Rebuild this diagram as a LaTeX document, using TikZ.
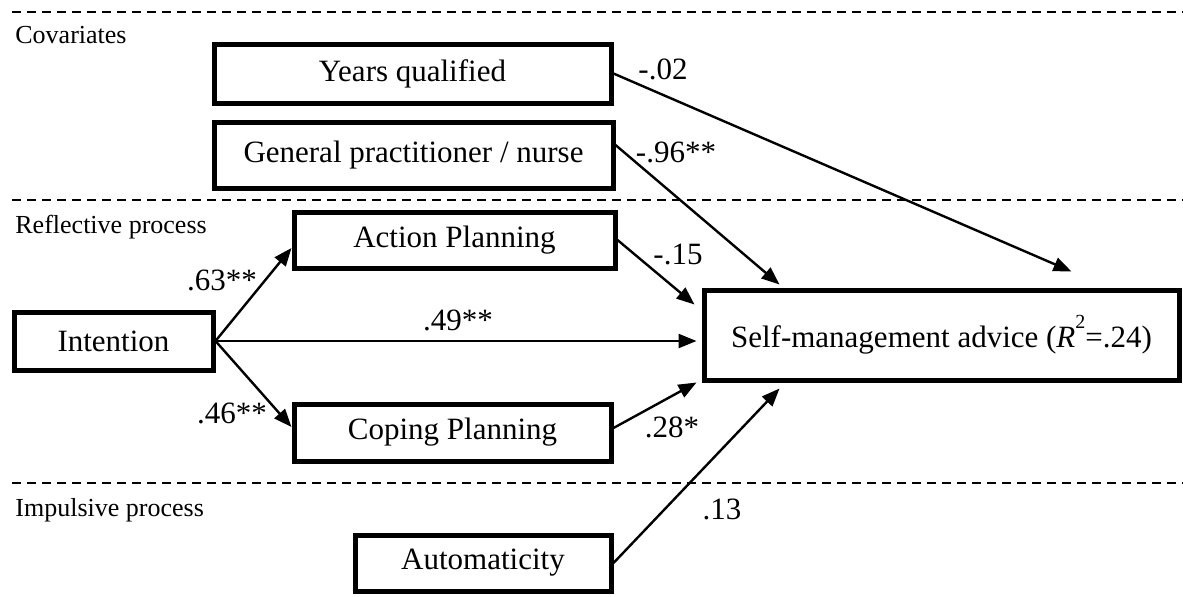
\documentclass[tikz,border=0pt]{standalone}
\usepackage{fontspec}
\setmainfont{Liberation Serif}
\usepackage{tikz}
\usetikzlibrary{arrows.meta}

\begin{document}
\begin{tikzpicture}[x=0.5pt,y=-0.5pt,
box/.style={draw,line width=2.5pt,inner sep=0pt,font=\fontsize{15.5}{18}\selectfont},
lbl/.style={inner sep=0pt,font=\fontsize{15.5}{18}\selectfont},
sec/.style={anchor=base west,inner sep=0pt,font=\fontsize{13}{15}\selectfont},
arr/.style={-{Triangle[length=9pt,width=7pt]},line width=1.2pt},
sep/.style={dash pattern=on 4.5pt off 3pt,line width=0.75pt}]
\useasboundingbox (0,0) rectangle (1183,596);
\draw[sep](12,12)--(1183,12) (12,200)--(1183,200) (12,483)--(1183,483);
\node[sec](cov) at (15,43){Covariates};
\node[sec](refl) at (15,233){Reflective process};
\node[sec](imp) at (15,516){Impulsive process};
\node[box,minimum width=198.5pt,minimum height=29.5pt](yq) at (412.5,73.5){Years qualified};
\node[box,minimum width=199.5pt,minimum height=33pt](gp) at (413.5,155){General practitioner / nurse};
\node[box,minimum width=160.5pt,minimum height=28pt](ap) at (454.5,240){Action Planning};
\node[box,minimum width=99.5pt,minimum height=29pt](int) at (113.5,341){Intention};
\node[box,minimum width=158.5pt,minimum height=28.5pt](cp) at (452.5,432.5){Coping Planning};
\node[box,minimum width=128pt,minimum height=28pt](autom) at (483,563){Automaticity};
\node[box,minimum width=237.5pt,minimum height=45pt](sma) at (941.5,335){Self-management advice (\textit{R}\raisebox{0.62em}{\fontsize{10}{10}\selectfont 2}=.24)};
\draw[arr](yq.east)--([xshift=65pt,yshift=8pt]sma.north);
\draw[arr]([yshift=5pt]gp.east)--([xshift=-81pt,yshift=1.5pt]sma.north);
\draw[arr](ap.east)--([xshift=-3.5pt,yshift=-8.5pt]sma.north west);
\draw[arr](int.east)--([yshift=-4pt]ap.west);
\draw[arr,shorten >=2.5pt](int.east)--(int.east-|sma.west);
\draw[arr](int.east)--([yshift=2.75pt]cp.west);
\draw[arr]([yshift=2.25pt]cp.east)--([xshift=-2.5pt]sma.south west);
\draw[arr](autom.east)--([xshift=-81pt,yshift=-3pt]sma.south);
\node[lbl](l02) at (663,69){-.02};
\node[lbl](l96) at (676,152){-.96**};
\node[lbl](l15) at (678,254){-.15};
\node[lbl](l63) at (222,280){.63**};
\node[lbl](l49) at (458,320){.49**};
\node[lbl](l46) at (232,413){.46**};
\node[lbl](l28) at (672,427){.28*};
\node[lbl](l13) at (722,509){.13};
\end{tikzpicture}
\end{document}
